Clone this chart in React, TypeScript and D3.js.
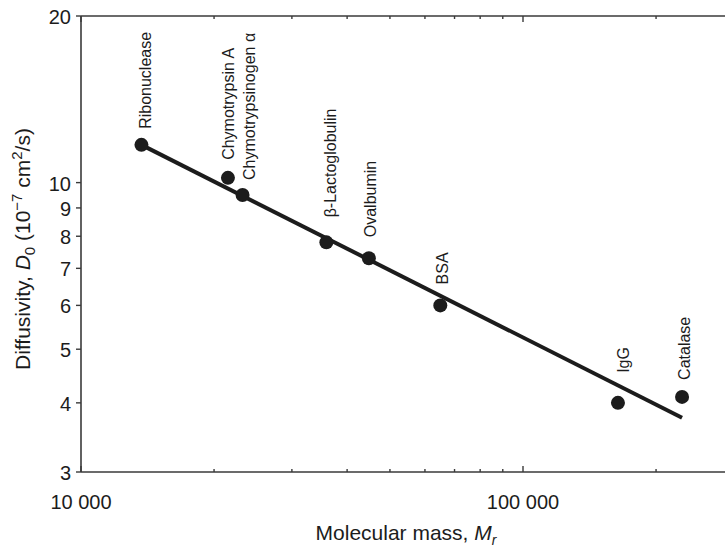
import * as d3 from "d3";

const proteins = [
  "Ribonuclease",
  "Chymotrypsin A",
  "Chymotrypsinogen α",
  "β-Lactoglobulin",
  "Ovalbumin",
  "BSA",
  "IgG",
  "Catalase",
];
const molecularMass = [13700, 21500, 23200, 35900, 44800, 65000, 164000, 229000];
const diffusivity = [11.7, 10.2, 9.5, 7.8, 7.3, 6.0, 4.0, 4.1];

// fitted line endpoints
const fitMass = [13700, 229000];
const fitDiffusivity = [11.7, 3.76];

const yTicks = [3, 4, 5, 6, 7, 8, 9, 10, 20];
const xMajorTicks = [10000, 100000];
const xMajorLabels = ["10 000", "100 000"];
const xMinorTicks = [20000, 30000, 40000, 50000, 60000, 70000, 80000, 90000, 200000];

// label placement tweaks (px): gap above dot, sideways shift
const labelGap = [16, 18, 15, 25, 21, 21, 30, 17];
const labelShift = [4, 0, 7, 4, 2, 2, 5, 2];

const W = 725;
const H = 547;
const left = 81;
const top = 16;
const bottom = 472;
const font = "'Liberation Sans', Arial, Helvetica, sans-serif";
const axisColor = "#3a3a3a";
const ink = "#1c1c1c";

export default function App() {
  const x = d3.scaleLog().domain([10000, 300000]).range([left, left + 442 * Math.log10(30)]);
  const y = d3.scaleLog().domain([3, 20]).range([bottom, top]);

  const fit = d3
    .line<number>()
    .x((_, i) => x(fitMass[i]))
    .y((d) => y(d));

  return (
    <svg
      width={W}
      height={H}
      style={{ position: "absolute", left: 0, top: 0, background: "#fff" }}
      fontFamily={font}
    >
      {/* frame */}
      <line x1={left} x2={W} y1={top} y2={top} stroke={axisColor} strokeWidth={1.6} />
      <line x1={left} x2={W} y1={bottom} y2={bottom} stroke={axisColor} strokeWidth={1.6} />
      <line x1={left} x2={left} y1={top} y2={bottom} stroke={axisColor} strokeWidth={1.6} />

      {/* y ticks */}
      {yTicks.map((t) => (
        <g key={t} transform={`translate(${left},${y(t)})`}>
          <line x1={-5} x2={0} stroke={axisColor} strokeWidth={1.4} />
          <text x={-10} dy="0.4em" textAnchor="end" fontSize={20} fill={ink}>
            {t}
          </text>
        </g>
      ))}

      {/* x ticks, bottom and top, pointing inward */}
      {xMajorTicks.map((t, i) => (
        <g key={t}>
          <line x1={x(t)} x2={x(t)} y1={bottom} y2={bottom - 6} stroke={axisColor} strokeWidth={1.4} />
          <line x1={x(t)} x2={x(t)} y1={top} y2={top + 6} stroke={axisColor} strokeWidth={1.4} />
          <text x={x(t)} y={509} textAnchor="middle" fontSize={20} fill={ink}>
            {xMajorLabels[i]}
          </text>
        </g>
      ))}
      {xMinorTicks.map((t) => (
        <g key={t}>
          <line x1={x(t)} x2={x(t)} y1={bottom} y2={bottom - 3} stroke={axisColor} strokeWidth={1.4} />
          <line x1={x(t)} x2={x(t)} y1={top} y2={top + 3} stroke={axisColor} strokeWidth={1.4} />
        </g>
      ))}

      {/* fitted line */}
      <path d={fit(fitDiffusivity) ?? ""} fill="none" stroke={ink} strokeWidth={4} />

      {/* points and labels */}
      {proteins.map((p, i) => {
        const cx = x(molecularMass[i]);
        const cy = y(diffusivity[i]);
        return (
          <g key={p}>
            <circle cx={cx} cy={cy} r={7} fill={ink} />
            <text
              transform={`translate(${cx + labelShift[i]},${cy - labelGap[i]}) rotate(-90)`}
              dy="0.35em"
              fontSize={16}
              fill={ink}
            >
              {p}
            </text>
          </g>
        );
      })}

      {/* axis titles */}
      <text x={(left + W) / 2 + 3} y={540} textAnchor="middle" fontSize={21} fill={ink}>
        Molecular mass, <tspan fontStyle="italic">M</tspan>
        <tspan fontStyle="italic" fontSize={14} dy={5}>
          r
        </tspan>
      </text>
      <text
        transform={`translate(30,${(top + bottom) / 2 + 5}) rotate(-90)`}
        textAnchor="middle"
        fontSize={21}
        fill={ink}
      >
        Diffusivity, <tspan fontStyle="italic">D</tspan>
        <tspan fontSize={15} dy={5}>
          0
        </tspan>
        <tspan dy={-5}> (10</tspan>
        <tspan fontSize={15} dy={-8}>
          −7
        </tspan>
        <tspan dy={8}> cm</tspan>
        <tspan fontSize={15} dy={-8}>
          2
        </tspan>
        <tspan dy={8}>/s)</tspan>
      </text>
    </svg>
  );
}
